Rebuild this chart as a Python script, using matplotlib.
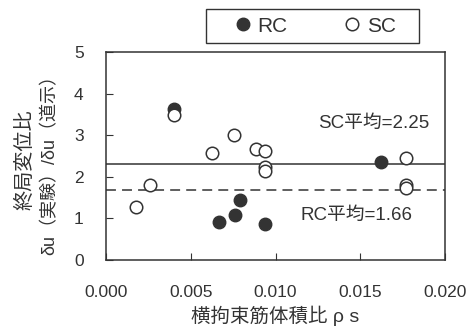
import matplotlib
matplotlib.use("Agg")
import matplotlib.pyplot as plt
from matplotlib.patches import Rectangle

plt.rcParams['font.family'] = ['Liberation Sans', 'Noto Sans CJK JP', 'DejaVu Sans']

# RC series (filled)
rc_x = [0.0040, 0.00667, 0.00761, 0.00791, 0.00939, 0.01623]
rc_y = [3.63, 0.91, 1.09, 1.43, 0.87, 2.36]
# SC series (open)
sc_x = [0.00177, 0.0026, 0.0040, 0.00628, 0.00758, 0.00886, 0.00939, 0.00939, 0.00939, 0.01771, 0.01771, 0.01771]
sc_y = [1.28, 1.79, 3.49, 2.56, 3.00, 2.67, 2.61, 2.23, 2.14, 2.46, 1.79, 1.74]
# mean lines (level as drawn in the picture) and their labels
sc_line = 2.30
rc_line = 1.69
sc_label = 'SC平均=2.25'
rc_label = 'RC平均=1.66'

ink = '#333333'
fig = plt.figure(figsize=(4.75, 3.29), dpi=100)
ax = fig.add_axes([0.223, 0.21, 0.714, 0.632])

ax.axhline(sc_line, color=ink, lw=1.1)
ax.axhline(rc_line, color=ink, lw=1.1, ls=(0, (6.5, 4)))

h_rc, = ax.plot(rc_x, rc_y, 'o', ms=9, mfc=ink, mec=ink, label='RC')
h_sc, = ax.plot(sc_x, sc_y, 'o', ms=9, mfc='white', mec=ink, mew=1.1, label='SC')

ax.text(0.0125, 3.27, sc_label, fontsize=13.5, color=ink, va='center')
ax.text(0.0115, 1.07, rc_label, fontsize=13.5, color=ink, va='center')

ax.set_xlim(0, 0.020)
ax.set_ylim(0, 5)
ax.set_xticks([0, 0.005, 0.010, 0.015, 0.020])
ax.set_xticklabels(['0.000', '0.005', '0.010', '0.015', '0.020'])
ax.set_yticks([0, 1, 2, 3, 4, 5])
ax.tick_params(direction='in', length=5, colors=ink, labelsize=12.5)
ax.tick_params(axis='x', pad=18)
ax.tick_params(axis='y', pad=16)
for s in ax.spines.values():
    s.set_color(ink)
    s.set_linewidth(1.1)

# axis titles placed by hand (pixel positions from the reference)
fig.text(275.5 / 475, 1 - 316 / 329, '横拘束筋体積比 ρ s', fontsize=14, color=ink,
         ha='center', va='center')
fig.text(25 / 475, 1 - 160 / 329, '終局変位比', fontsize=14.5, color=ink,
         ha='center', va='center', rotation=90)
fig.text(50 / 475, 1 - 160 / 329, 'δu（実験）/δu（道示）', fontsize=13, color=ink,
         ha='center', va='center', rotation=90)

fig.patches.append(Rectangle((206 / 475, 1 - 43 / 329), 213 / 475, 34 / 329,
                             transform=fig.transFigure, fill=False, edgecolor=ink,
                             lw=1.0, figure=fig))
leg = fig.legend(handles=[h_rc, h_sc], loc='center left',
                 bbox_to_anchor=(234.7 / 475, 1 - 26 / 329),
                 ncol=2, frameon=False, fontsize=15, borderpad=0, borderaxespad=0,
                 handletextpad=0.3, columnspacing=2.7, handlelength=0.8)
for t in leg.get_texts():
    t.set_color(ink)

fig.savefig('out.png', dpi=100)
